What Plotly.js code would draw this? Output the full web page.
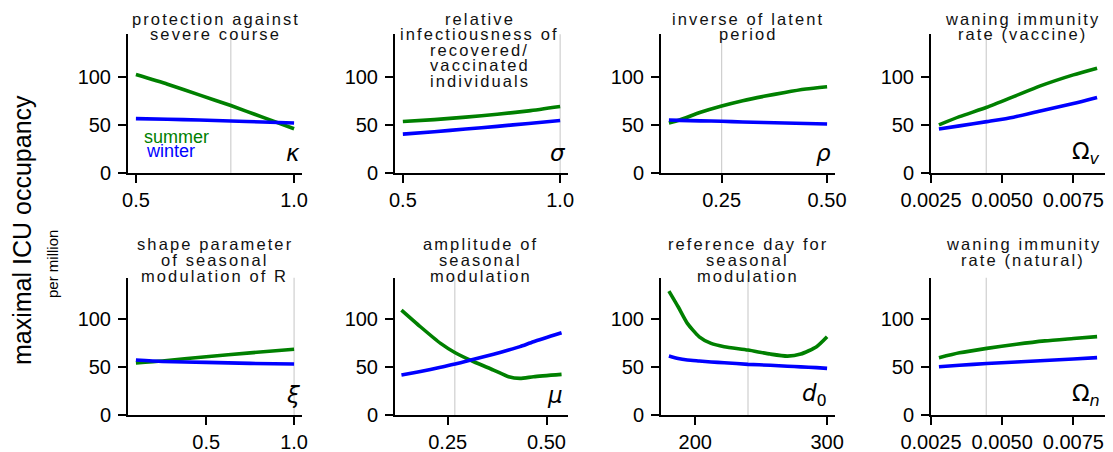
<!DOCTYPE html>
<html>
<head>
<meta charset="utf-8">
<script src="https://cdn.plot.ly/plotly-3.0.1.min.js"></script>
<style>
  html, body { margin: 0; padding: 0; background: #fff; }
  #chart { width: 1113px; height: 452px; }
  text.annotation-text[style*="16.5px"] { letter-spacing: 2.1px; }
</style>
</head>
<body>
<div id="chart"></div>
<script>
// ---------- data ----------
const kappaX = [0.5, 0.6, 0.7, 0.8, 0.9, 1.0];
const kappaSummer = [102, 92, 81, 70, 58, 46];
const kappaWinter = [56.5, 55.8, 55, 54, 53, 52];

const sigmaX = [0.5, 0.6, 0.7, 0.8, 0.9, 1.0];
const sigmaSummer = [53.5, 55.5, 58, 61, 64.5, 69];
const sigmaWinter = [40.5, 43, 45.7, 48.5, 51.5, 54.5];

const rhoX = [0.125, 0.15, 0.2, 0.25, 0.3, 0.35, 0.4, 0.45, 0.5];
const rhoSummer = [52, 55, 63, 69.5, 75, 79.5, 83.5, 87, 89.5];
const rhoWinter = [55, 54.7, 54.2, 53.7, 53, 52.5, 52, 51.5, 51];

const omegaVX = [0.002778, 0.0035, 0.00446, 0.0054, 0.00634, 0.0075, 0.008333];
const omegaVSummer = [50, 58.5, 68.2, 79.2, 90.3, 101.7, 108.6];
const omegaVWinter = [45.8, 49, 53.4, 58, 64.4, 72, 78.2];

const xiX = [0.1, 0.25, 0.5, 0.75, 1.0];
const xiSummer = [54.5, 56.5, 61, 65, 68.7];
const xiWinter = [57.5, 56, 55, 54, 53.3];

const muX = [0.133, 0.181, 0.232, 0.269, 0.316, 0.366, 0.404, 0.433, 0.467, 0.538];
const muSummer = [109.7, 92.3, 74.9, 65.1, 55.7, 47, 40, 38.3, 40, 42.5];
const muWinter = [41.8, 45.5, 50, 53.3, 58.2, 63.5, 67.9, 71.5, 76.6, 86];

const d0X = [180, 187, 194, 203, 212, 222, 240, 257, 270, 280, 292, 300];
const d0Summer = [129.6, 113.2, 95.8, 81.8, 74.9, 71.4, 67.9, 63.7, 61.6, 63.7, 71.4, 81.8];
const d0Winter = [61.6, 59, 57.5, 56.5, 55.5, 54.7, 53, 52, 51, 50.3, 49.5, 48.8];

const omegaNX = [0.002778, 0.0035, 0.00446, 0.0055, 0.0065, 0.0075, 0.008333];
const omegaNSummer = [60, 65, 69.7, 74, 77.5, 80, 82];
const omegaNWinter = [50.5, 52, 53.8, 55.5, 57, 58.5, 60];

// reference (gray) values
const refValues = [0.8, 1.0, 0.25, 0.00444, 1.0, 0.268, 240, 0.00444];

// titles
const panelTitles = [
  ["protection against", "severe course"],
  ["relative", "infectiousness of", "recovered/", "vaccinated", "individuals"],
  ["inverse of latent", "period"],
  ["waning immunity", "rate (vaccine)"],
  ["shape parameter", "of seasonal", "modulation of R"],
  ["amplitude of", "seasonal", "modulation"],
  ["reference day for", "seasonal", "modulation"],
  ["waning immunity", "rate (natural)"]
];
const paramSymbols = ["<i>κ</i>", "<i>σ</i>", "<i>ρ</i>", "Ω<sub><i>v</i></sub>",
                      "<i>ξ</i>", "<i>μ</i>", "<i>d</i><sub>0</sub>", "Ω<sub><i>n</i></sub>"];

// tick values / labels
const xTickVals = [[0.5, 1.0], [0.5, 1.0], [0.25, 0.5], [0.0025, 0.005, 0.0075],
                   [0.5, 1.0], [0.25, 0.5], [200, 300], [0.0025, 0.005, 0.0075]];
const xTickText = [["0.5", "1.0"], ["0.5", "1.0"], ["0.25", "0.50"], ["0.0025", "0.0050", "0.0075"],
                   ["0.5", "1.0"], ["0.25", "0.50"], ["200", "300"], ["0.0025", "0.0050", "0.0075"]];
const yTickVals = [0, 50, 100];
const yTickText = ["0", "50", "100"];

const seriesNames = ["summer", "winter"];
const yAxisTitle = "maximal ICU occupancy";
const yAxisSubtitle = "per million";

// ---------- layout geometry ----------
const W = 1113, H = 452;
const px = v => v / W;
const py = v => 1 - v / H;
const colPx = [[128, 302], [395, 568], [661, 835], [931, 1105]];
const rowPx = [[34.3, 173.3], [277.7, 415]];
const xRanges = [[0.475, 1.025], [0.475, 1.025], [0.10625, 0.51875], [0.0025, 0.0086111],
                 [0.055, 1.045], [0.1167, 0.5543], [174, 306], [0.0025, 0.0086111]];
const yRange = [0, 143.6];
const titleCenters = [[215.5, 479.5, 748, 1022.5], [214.5, 480.5, 748, 1023.3]];
const titleBaselines = [[24.5, 40, 55.5, 71, 86.5], [250, 266, 281.5]];
const symbolRight = [[300.5, 567, 832, 1100.5], [300.5, 563.5, 828.5, 1100.5]];
const symbolBaseline = [160.5, 403];

const GREEN = "#008000", BLUE = "#0000ff";
const tickFont = { family: "Liberation Sans, Arial, sans-serif", size: 20, color: "#000" };

const xs = [kappaX, sigmaX, rhoX, omegaVX, xiX, muX, d0X, omegaNX];
const summers = [kappaSummer, sigmaSummer, rhoSummer, omegaVSummer, xiSummer, muSummer, d0Summer, omegaNSummer];
const winters = [kappaWinter, sigmaWinter, rhoWinter, omegaVWinter, xiWinter, muWinter, d0Winter, omegaNWinter];

const traces = [];
const layout = {
  width: W, height: H,
  margin: { l: 0, r: 0, t: 0, b: 0 },
  paper_bgcolor: "#fff", plot_bgcolor: "#fff",
  showlegend: false,
  annotations: [], shapes: []
};

// title annotations (font 16.5px -> letter spacing via CSS)
for (let i = 0; i < 8; i++) {
  const r = Math.floor(i / 4), c = i % 4;
  panelTitles[i].forEach((line, k) => {
    const base = titleBaselines[r][k];
    layout.annotations.push({
      text: line, xref: "paper", yref: "paper",
      x: px(titleCenters[r][c]), y: py(base - 5.7),
      xanchor: "center", yanchor: "middle", showarrow: false,
      font: { family: "Liberation Sans, Arial, sans-serif", size: 16.5, color: "#111" }
    });
  });
}

for (let i = 0; i < 8; i++) {
  const r = Math.floor(i / 4), c = i % 4;
  const n = i + 1;
  const xa = "x" + (n === 1 ? "" : n), ya = "y" + (n === 1 ? "" : n);
  traces.push({ x: xs[i], y: summers[i], xaxis: xa, yaxis: ya, type: "scatter", mode: "lines",
                name: seriesNames[0], line: { color: GREEN, width: 3.6, shape: "spline", smoothing: 0.6 } });
  traces.push({ x: xs[i], y: winters[i], xaxis: xa, yaxis: ya, type: "scatter", mode: "lines",
                name: seriesNames[1], line: { color: BLUE, width: 3.6, shape: "spline", smoothing: 0.6 } });

  layout["xaxis" + (n === 1 ? "" : n)] = {
    domain: [px(colPx[c][0]), px(colPx[c][1])],
    anchor: ya, range: xRanges[i],
    tickvals: xTickVals[i], ticktext: xTickText[i],
    ticks: "outside", ticklen: 8, tickwidth: 2, tickcolor: "#000",
    showline: true, linecolor: "#000", linewidth: 2,
    showgrid: false, zeroline: false, tickfont: tickFont, fixedrange: true
  };
  layout["yaxis" + (n === 1 ? "" : n)] = {
    domain: [py(rowPx[r][1]), py(rowPx[r][0])],
    anchor: xa, range: yRange,
    tickvals: yTickVals, ticktext: yTickText,
    ticks: "outside", ticklen: 8, tickwidth: 2, tickcolor: "#000",
    ticklabelstandoff: 3,
    showline: true, linecolor: "#000", linewidth: 2,
    showgrid: false, zeroline: false, tickfont: tickFont, fixedrange: true
  };
  layout.shapes.push({
    type: "line", xref: xa, yref: ya + " domain",
    x0: refValues[i], x1: refValues[i], y0: 0, y1: 1,
    line: { color: "#cfcfcf", width: 1.2 }, layer: "below"
  });
  layout.annotations.push({
    text: paramSymbols[i], xref: "paper", yref: "paper",
    x: px(symbolRight[r][c] + 1), y: py(symbolBaseline[r] - 7.8),
    xanchor: "right", yanchor: "middle", showarrow: false,
    font: { family: "DejaVu Sans, sans-serif", size: 23, color: "#000" }
  });
}

// legend as coloured text (first panel)
layout.annotations.push({
  text: seriesNames[0], xref: "paper", yref: "paper", x: px(142), y: py(143.3 - 6.3),
  xanchor: "left", yanchor: "middle", showarrow: false,
  font: { family: "Liberation Sans, Arial, sans-serif", size: 18, color: GREEN }
});
layout.annotations.push({
  text: seriesNames[1], xref: "paper", yref: "paper", x: px(144), y: py(157.7 - 6.3),
  xanchor: "left", yanchor: "middle", showarrow: false,
  font: { family: "Liberation Sans, Arial, sans-serif", size: 18, color: BLUE }
});

// y axis titles
layout.annotations.push({
  text: yAxisTitle, xref: "paper", yref: "paper", x: px(22), y: py(230),
  xanchor: "center", yanchor: "middle", textangle: -90, showarrow: false,
  font: { family: "Liberation Sans, Arial, sans-serif", size: 25, color: "#000" }
});
layout.annotations.push({
  text: yAxisSubtitle, xref: "paper", yref: "paper", x: px(52), y: py(264),
  xanchor: "center", yanchor: "middle", textangle: -90, showarrow: false,
  font: { family: "Liberation Sans, Arial, sans-serif", size: 15, color: "#000" }
});

Plotly.newPlot("chart", traces, layout, { staticPlot: true, displayModeBar: false });
</script>
</body>
</html>
